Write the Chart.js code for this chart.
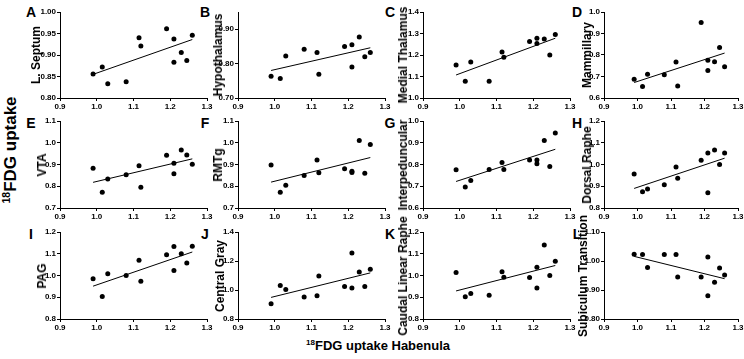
<!DOCTYPE html>
<html>
<head>
<meta charset="utf-8">
<script src="https://cdn.jsdelivr.net/npm/chart.js@4.4.1/dist/chart.umd.min.js"></script>
<style>
  html, body { margin:0; padding:0; background:#fff; }
  body { width:744px; height:359px; position:relative; overflow:hidden; font-family:"Liberation Sans", Arial, sans-serif; }
  canvas { position:absolute; }
  .lbl { position:absolute; font-weight:bold; color:#000; white-space:nowrap; }
  .letter { font-size:14px; transform:translate(-50%,-50%); }
  .ytitle { font-size:12px; transform:translate(-50%,-50%) rotate(-90deg); }
  sup { font-size:0.62em; vertical-align:0.55em; line-height:0; }
</style>
</head>
<body>
<div class="lbl letter" style="left:31px;top:12px">A</div>
<div class="lbl letter" style="left:205px;top:12px">B</div>
<div class="lbl letter" style="left:390px;top:12px">C</div>
<div class="lbl letter" style="left:577px;top:12px">D</div>
<div class="lbl letter" style="left:31px;top:123px">E</div>
<div class="lbl letter" style="left:205px;top:123px">F</div>
<div class="lbl letter" style="left:390px;top:123px">G</div>
<div class="lbl letter" style="left:577px;top:123px">H</div>
<div class="lbl letter" style="left:31px;top:234px">I</div>
<div class="lbl letter" style="left:205px;top:234px">J</div>
<div class="lbl letter" style="left:390px;top:234px">K</div>
<div class="lbl letter" style="left:577px;top:234px">L</div>
<div class="lbl" style="left:11px;top:150px;font-size:17px;transform:translate(-50%,-50%) rotate(-90deg)"><sup>18</sup>FDG uptake</div>
<div class="lbl" style="left:378px;top:345px;font-size:13px;transform:translate(-50%,-50%)"><sup>18</sup>FDG uptake Habenula</div>

<script>
// x values shared by all panels (habenula uptake)
const habenula = [0.99, 1.015, 1.03, 1.08, 1.115, 1.12, 1.19, 1.21, 1.21, 1.23, 1.245, 1.26];
const xTicks = [0.9, 1.0, 1.1, 1.2, 1.3];

const regions = ['L. Septum', 'Hypothalamus', 'Medial Thalamus', 'Mammillary',
                 'VTA', 'RMTg', 'Interpeduncular', 'Dorsal Raphe',
                 'PAG', 'Central Gray', 'Caudal Linear Raphe', 'Subiculum Transition'];

const septum     = [0.856, 0.872, 0.833, 0.838, 0.940, 0.921, 0.961, 0.937, 0.883, 0.906, 0.887, 0.946];
const hypothal   = [0.763, 0.757, 0.822, 0.842, 0.832, 0.769, 0.850, 0.855, 0.790, 0.877, 0.820, 0.832];
const medThal    = [1.153, 1.078, 1.168, 1.078, 1.214, 1.190, 1.263, 1.278, 1.253, 1.275, 1.200, 1.295];
const mammillary = [0.687, 0.653, 0.710, 0.708, 0.768, 0.656, 0.951, 0.776, 0.728, 0.769, 0.835, 0.745];
const vta        = [0.883, 0.772, 0.833, 0.853, 0.894, 0.795, 0.943, 0.906, 0.857, 0.967, 0.944, 0.901];
const rmtg       = [0.898, 0.772, 0.805, 0.850, 0.921, 0.862, 0.880, 0.869, 0.863, 1.010, 0.860, 0.992];
const interped   = [0.776, 0.696, 0.727, 0.777, 0.809, 0.777, 0.821, 0.821, 0.803, 0.910, 0.791, 0.945];
const dorsRaphe  = [0.956, 0.875, 0.887, 0.907, 0.988, 0.937, 1.020, 1.053, 0.870, 1.067, 1.000, 1.053];
const pag        = [0.985, 0.904, 1.008, 1.000, 1.070, 0.974, 1.095, 1.133, 1.023, 1.100, 1.058, 1.134];
const centGray   = [0.905, 1.031, 1.003, 0.951, 0.960, 1.097, 1.024, 1.255, 1.013, 1.125, 1.024, 1.143];
const caudLin    = [1.014, 0.902, 0.917, 0.909, 1.017, 0.992, 0.991, 1.038, 0.943, 1.140, 1.000, 1.065];
const subic      = [1.023, 1.022, 0.978, 1.022, 1.022, 0.945, 0.945, 1.014, 0.880, 0.927, 0.976, 0.952];

// fitted line, y at first and last habenula value
const fitStart = [0.855, 0.780, 1.107, 0.672, 0.818, 0.819, 0.722, 0.890, 0.951, 0.949, 0.929, 1.016];
const fitEnd   = [0.936, 0.846, 1.278, 0.809, 0.926, 0.932, 0.870, 1.029, 1.108, 1.118, 1.046, 0.939];

// y tick labels per panel
const yTicks = [
  [0.80, 0.85, 0.90, 0.95, 1.00],
  [0.70, 0.80, 0.90],
  [1.0, 1.1, 1.2, 1.3, 1.4],
  [0.6, 0.7, 0.8, 0.9, 1.0],
  [0.7, 0.8, 0.9, 1.0, 1.1],
  [0.7, 0.8, 0.9, 1.0, 1.1],
  [0.6, 0.7, 0.8, 0.9, 1.0],
  [0.8, 0.9, 1.0, 1.1, 1.2],
  [0.8, 0.9, 1.0, 1.1, 1.2],
  [0.8, 1.0, 1.2, 1.4],
  [0.8, 0.9, 1.0, 1.1, 1.2],
  [0.80, 0.90, 1.00, 1.10]
];
const yMax = [1.00, 0.95, 1.4, 1.0, 1.1, 1.1, 1.0, 1.2, 1.2, 1.4, 1.2, 1.10];
const yDec = [2, 2, 1, 1, 1, 1, 1, 1, 1, 1, 1, 2];

const allY = [septum, hypothal, medThal, mammillary, vta, rmtg, interped, dorsRaphe, pag, centGray, caudLin, subic];

// layout
const colX = [60, 238, 423, 604];
const colW = [147, 147, 147, 134];
const rowTop = [12, 121, 232];
const rowH = [86, 87, 87];
const titleGap = [24, 20, 20, 17, 18, 20, 20, 17, 18, 18, 20, 21];
const AXW = 40, AXH = 18, PADT = 8, PADR = 12;

const font = '"Liberation Sans", Arial, sans-serif';

allY.forEach((ys, i) => {
  const col = i % 4, row = Math.floor(i / 4);
  const cv = document.createElement('canvas');
  const w = colW[col] + AXW + PADR, h = rowH[row] + PADT + AXH;
  cv.width = w; cv.height = h;
  cv.style.left = (colX[col] - AXW) + 'px';
  cv.style.top = (rowTop[row] - PADT) + 'px';
  cv.style.width = w + 'px'; cv.style.height = h + 'px';
  document.body.appendChild(cv);

  // region name beside the y axis
  const t = document.createElement('div');
  t.className = 'lbl ytitle';
  t.textContent = regions[i];
  t.style.left = (colX[col] - titleGap[i]) + 'px';
  t.style.top = (rowTop[row] + rowH[row] / 2) + 'px';
  document.body.appendChild(t);

  const pts = habenula.map((x, k) => ({ x: x, y: ys[k] }));
  const fit = [{ x: habenula[0], y: fitStart[i] }, { x: habenula[habenula.length - 1], y: fitEnd[i] }];

  new Chart(cv, {
    type: 'scatter',
    data: {
      datasets: [
        { data: fit, showLine: true, borderColor: '#000', borderWidth: 1, pointRadius: 0, order: 2 },
        { data: pts, pointRadius: 2.5, pointBackgroundColor: '#000', pointBorderWidth: 0, order: 1 }
      ]
    },
    options: {
      responsive: false,
      animation: false,
      devicePixelRatio: 1,
      layout: { padding: { left: 0, top: PADT, right: PADR, bottom: 0 } },
      plugins: { legend: { display: false }, tooltip: { enabled: false } },
      scales: {
        x: {
          type: 'linear', min: 0.9, max: 1.3,
          afterBuildTicks: s => { s.ticks = xTicks.map(v => ({ value: v })); },
          afterFit: s => { s.height = AXH; },
          ticks: { callback: v => v.toFixed(1), color: '#000', padding: 1, maxRotation: 0, autoSkip: false,
                   font: { family: font, size: 8, weight: 'bold' } },
          grid: { drawOnChartArea: false, tickLength: 3, color: '#000', lineWidth: 1 },
          border: { color: '#000', width: 1 }
        },
        y: {
          type: 'linear', min: yTicks[i][0], max: yMax[i],
          afterBuildTicks: s => { s.ticks = yTicks[i].map(v => ({ value: v })); },
          afterFit: s => { s.width = AXW; },
          ticks: { callback: v => v.toFixed(yDec[i]), color: '#000', padding: 1, autoSkip: false,
                   font: { family: font, size: 8, weight: 'bold' } },
          grid: { drawOnChartArea: false, tickLength: 3, color: '#000', lineWidth: 1 },
          border: { color: '#000', width: 1 }
        }
      }
    }
  });
});
</script>
</body>
</html>
